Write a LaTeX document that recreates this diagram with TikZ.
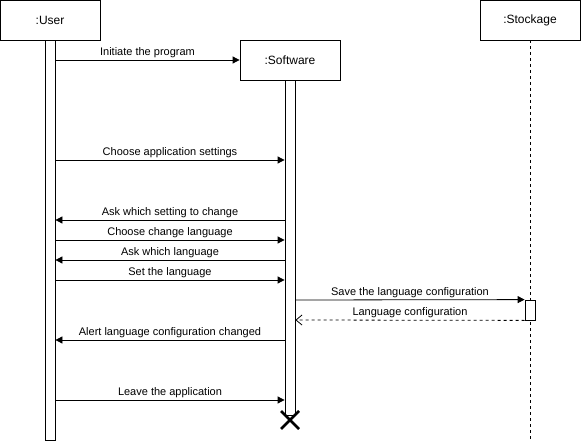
\documentclass[tikz,border=0pt]{standalone}
\usepackage{fontspec}
\setmainfont{Liberation Sans}
\usetikzlibrary{arrows.meta}
\begin{document}
\begin{tikzpicture}[x=1pt,y=-1pt,
  obj/.style={draw,line width=0.8pt,fill=white,minimum width=100pt,minimum height=40pt,inner sep=0pt,font=\fontsize{12}{14}\selectfont},
  bar/.style={draw,line width=0.8pt,fill=white,minimum width=10pt,inner sep=0pt},
  msg/.style={line width=0.8pt,-{Triangle[length=7pt,width=7pt]}},
  ret/.style={line width=0.8pt,dash pattern=on 3pt off 3pt,-{Straight Barb[length=6pt,width=10pt]}},
  lbl/.style={font=\fontsize{11}{13}\selectfont,inner sep=1pt,above=1pt}]
\useasboundingbox (0,0) rectangle (581,441);
% lifelines / bars
\node[bar,minimum height=400pt] (ub) at (50,240) {};
\node[obj] (user) at (50,20) {:User};
\draw[line width=0.8pt,dash pattern=on 3pt off 3pt] (530,40) coordinate (sl0) -- (530,440) coordinate (sl1);
\node[obj] (stock) at (530,20) {:Stockage};
\node[bar,minimum height=335pt] (sb) at (290,247.5) {};
\node[obj] (soft) at (290,60) {:Software};
\node[bar,minimum height=20pt] (kb) at (530,310) {};
% destroy
\coordinate (x) at (290,420);
\draw[line width=2.5pt] ([shift={(-9,-9)}]x) -- ([shift={(9,9)}]x) ([shift={(-9,9)}]x) -- ([shift={(9,-9)}]x);
% messages
\draw[msg] (ub.east |- 0,60) -- node[lbl]{Initiate the program} (soft.west);
\draw[msg] (ub.east |- 0,160) -- node[lbl]{Choose application settings} (sb.west |- 0,160);
\draw[msg] (sb.west |- 0,220) -- node[lbl]{Ask which setting to change} (ub.east |- 0,220);
\draw[msg] (ub.east |- 0,240) -- node[lbl]{Choose change language} (sb.west |- 0,240);
\draw[msg] (sb.west |- 0,260) -- node[lbl]{Ask which language} (ub.east |- 0,260);
\draw[msg] (ub.east |- 0,280) -- node[lbl]{Set the language} (sb.west |- 0,280);
\draw[msg] (sb.east |- 0,300) -- node[lbl]{Save the language configuration} (kb.north west);
\draw[ret] (kb.south west) -- node[lbl]{Language configuration} (sb.east |- 0,320);
\draw[msg] (sb.west |- 0,340) -- node[lbl]{Alert language configuration changed} (ub.east |- 0,340);
\draw[msg] (ub.east |- 0,400) -- node[lbl]{Leave the application} (sb.west |- 0,400);
\end{tikzpicture}
\end{document}
